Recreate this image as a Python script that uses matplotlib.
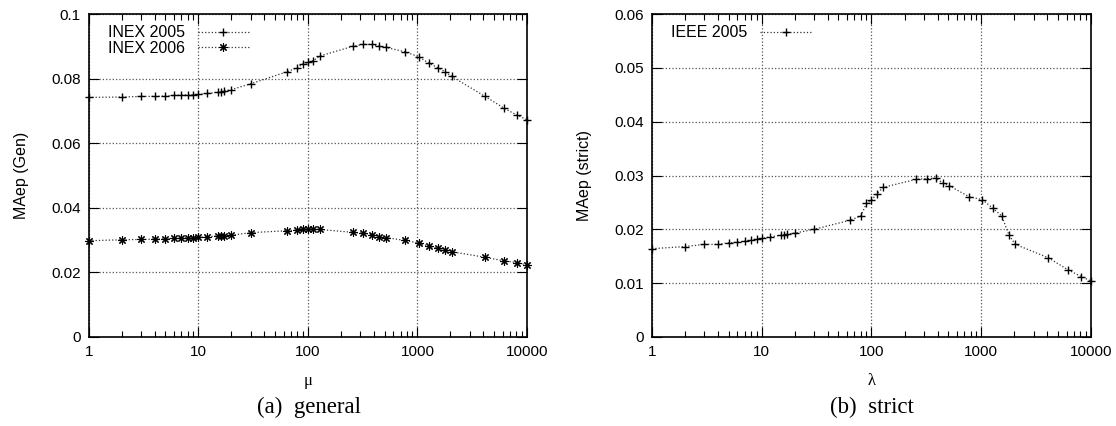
import matplotlib
matplotlib.use('Agg')
import matplotlib.pyplot as plt
from matplotlib.ticker import FixedLocator, FixedFormatter, LogLocator, NullFormatter

# x values (mu / lambda), shared by all series
param = [1, 2, 3, 4, 5, 6, 7, 8, 9, 10, 12, 15, 16, 17, 20, 30,
         64, 80, 90, 100, 112, 128, 256, 320, 384, 448, 512, 768,
         1024, 1280, 1536, 1792, 2048, 4096, 6144, 8192, 10000]

inex2005 = [0.0742, 0.0743, 0.0745, 0.0745, 0.0746, 0.0748, 0.0749, 0.0750, 0.0750,
            0.0751, 0.0754, 0.0758, 0.0760, 0.0761, 0.0766, 0.0784,
            0.0821, 0.0834, 0.0846, 0.0850, 0.0856, 0.0870, 0.0900, 0.0906,
            0.0906, 0.0900, 0.0897, 0.0883, 0.0868, 0.0847, 0.0834, 0.0821,
            0.0807, 0.0746, 0.0709, 0.0686, 0.0673]

inex2006 = [0.0298, 0.0301, 0.0302, 0.0303, 0.0304, 0.0305, 0.0306, 0.0307, 0.0308,
            0.0309, 0.0310, 0.0313, 0.0313, 0.0314, 0.0315, 0.0323,
            0.0329, 0.0331, 0.0334, 0.0334, 0.0333, 0.0333, 0.0324, 0.0321,
            0.0317, 0.0311, 0.0308, 0.0299, 0.0291, 0.0281, 0.0275, 0.0270,
            0.0264, 0.0247, 0.0236, 0.0230, 0.0223]

ieee2005 = [0.0164, 0.0168, 0.0172, 0.0172, 0.0175, 0.0176, 0.0178, 0.0180, 0.0182,
            0.0183, 0.0186, 0.0189, 0.0189, 0.0191, 0.0193, 0.0200,
            0.0217, 0.0225, 0.0248, 0.0254, 0.0266, 0.0278, 0.0293, 0.0294,
            0.0295, 0.0286, 0.0281, 0.0261, 0.0255, 0.0239, 0.0225, 0.0189,
            0.0172, 0.0147, 0.0125, 0.0112, 0.0104]

left_yticks = [0, 0.02, 0.04, 0.06, 0.08, 0.1]
left_ylabels = ['0', '0.02', '0.04', '0.06', '0.08', '0.1']
right_yticks = [0, 0.01, 0.02, 0.03, 0.04, 0.05, 0.06]
right_ylabels = ['0', '0.01', '0.02', '0.03', '0.04', '0.05', '0.06']
xticks = [1, 10, 100, 1000, 10000]
xlabels = ['1', '10', '100', '1000', '10000']

sans = 'Liberation Sans'
serif = 'Liberation Serif'
fs = 11

fig = plt.figure(figsize=(11.16, 4.26), dpi=100)
ax1 = fig.add_axes([0.0797, 0.209, 0.3925, 0.758])
ax2 = fig.add_axes([0.5842, 0.209, 0.3934, 0.758])

line_kw = dict(linestyle=':', linewidth=0.9, color='#333333',
               markeredgecolor='black', markersize=6)

ax1.plot(param, inex2005, marker='+', markeredgewidth=1.0, label='INEX 2005',
         clip_on=False, **line_kw)
ax1.plot(param, inex2006, marker=(8, 2, 0), markeredgewidth=0.8, label='INEX 2006',
         clip_on=False, **line_kw)
ax2.plot(param, ieee2005, marker='+', markeredgewidth=1.0, label='IEEE 2005',
         clip_on=False, **line_kw)


def style(ax, yticks, ylabels, ymax, xlabel, ylabel):
    ax.set_xscale('log')
    ax.set_xlim(1, 10000)
    ax.set_ylim(0, ymax)
    ax.xaxis.set_major_locator(FixedLocator(xticks))
    ax.xaxis.set_major_formatter(FixedFormatter(xlabels))
    ax.xaxis.set_minor_locator(LogLocator(base=10, subs=range(2, 10)))
    ax.xaxis.set_minor_formatter(NullFormatter())
    ax.yaxis.set_major_locator(FixedLocator(yticks))
    ax.yaxis.set_major_formatter(FixedFormatter(ylabels))
    ax.tick_params(which='both', direction='in', top=True, right=True)
    ax.tick_params(which='major', length=7, width=0.8, labelsize=fs, pad=6)
    ax.tick_params(which='minor', length=4, width=0.8)
    for lab in ax.get_xticklabels() + ax.get_yticklabels():
        lab.set_family(sans)
    ax.grid(True, which='major', linestyle=':', linewidth=0.9, color='#555555')
    for sp in ax.spines.values():
        sp.set_linewidth(1.2)
    ax.set_xlabel(xlabel, fontsize=fs + 1, family=serif, labelpad=10)
    ax.set_ylabel(ylabel, fontsize=fs + 0.5, family=sans, labelpad=16)
    ax.legend(loc='upper left', bbox_to_anchor=(0.018, 1.0), frameon=False,
              markerfirst=False, handlelength=3.2, numpoints=1,
              borderaxespad=0.3, labelspacing=0.05,
              prop={'family': sans, 'size': fs + 0.5})


style(ax1, left_yticks, left_ylabels, 0.1, 'μ', 'MAep (Gen)')
style(ax2, right_yticks, right_ylabels, 0.06, 'λ', 'MAep (strict)')

fig.text(0.2765, 0.043, '(a)  general', ha='center', va='center',
         family=serif, fontsize=16.5)
fig.text(0.7810, 0.043, '(b)  strict', ha='center', va='center',
         family=serif, fontsize=16.5)

fig.savefig('out.png', dpi=100)
